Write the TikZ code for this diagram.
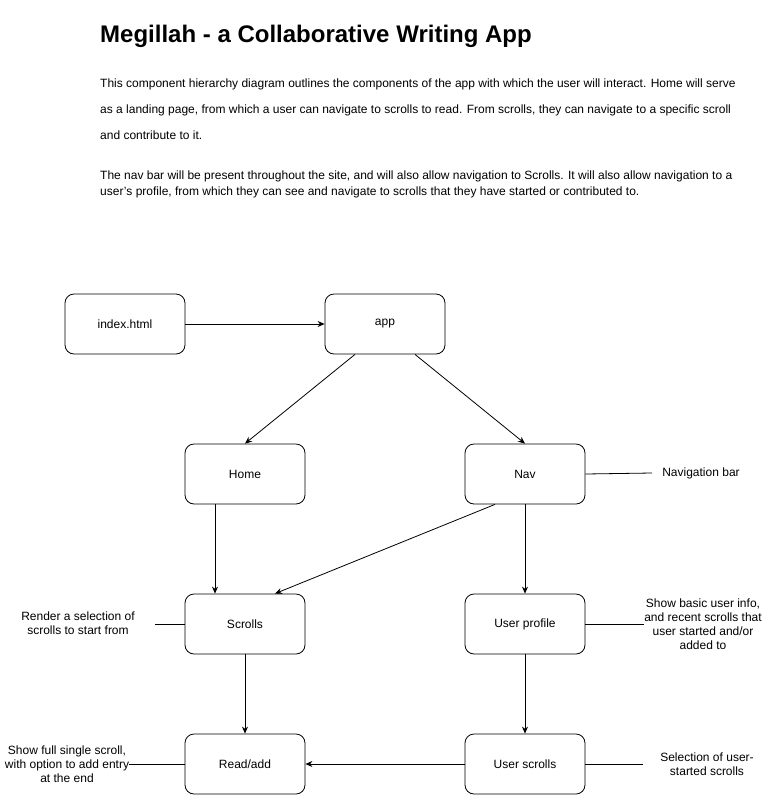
\documentclass[tikz,border=0pt]{standalone}
\usepackage{fontspec}
\setmainfont{Liberation Sans}
\usetikzlibrary{arrows.meta}
\begin{document}
\begin{tikzpicture}[x=1pt,y=-1pt,
  box/.style={draw,line width=0.8pt,rounded corners=9pt,minimum width=120pt,minimum height=60pt,inner sep=0pt,font=\fontsize{12}{14}\selectfont},
  conn/.style={line width=0.8pt,-{Stealth[length=7pt,width=6pt]}},
  link/.style={line width=0.8pt},
  note/.style={align=center,font=\fontsize{12}{14}\selectfont,inner sep=0pt},
  para/.style={anchor=base west,inner sep=0pt,font=\fontsize{12}{14}\selectfont}]
\useasboundingbox[fill=white] (0,0) rectangle (769,804);

\node[anchor=base west,inner sep=0pt,font=\bfseries\fontsize{24}{28}\selectfont] (title) at (100,42) {Megillah - a Collaborative Writing App};
\node[para] (p1) at (100,87) {This component hierarchy diagram outlines the components of the app with which the user will interact. Home will serve};
\node[para] (p2) at (100,113) {as a landing page, from which a user can navigate to scrolls to read. From scrolls, they can navigate to a specific scroll};
\node[para] (p3) at (100,139) {and contribute to it.};
\node[para] (p4) at (100,179) {The nav bar will be present throughout the site, and will also allow navigation to Scrolls. It will also allow navigation to a};
\node[para] (p5) at (100,195) {user{\char"0027}s profile, from which they can see and navigate to scrolls that they have started or contributed to.};

\node[box] (index) at (125,324) {index.html};
\node[box] (app) at (385,324) {app};
\node[box] (home) at (245,474) {Home};
\node[box] (nav) at (525,474) {Nav};
\node[box] (scrolls) at (245,624) {Scrolls};
\node[box] (profile) at (525,624) {User profile};
\node[box] (read) at (245,764) {Read/add};
\node[box] (uscrolls) at (525,764) {User scrolls};

\draw[conn] (index.east) -- (app.west);
\draw[conn] ([xshift=-30pt]app.south) -- (home.north);
\draw[conn] ([xshift=30pt]app.south) -- (nav.north);
\draw[conn] ([xshift=-30pt]home.south) -- ([xshift=-30pt]scrolls.north);
\draw[conn] ([xshift=-30pt]nav.south) -- ([xshift=30pt]scrolls.north);
\draw[conn] (nav.south) -- (profile.north);
\draw[conn] (scrolls.south) -- (read.north);
\draw[conn] (profile.south) -- (uscrolls.north);
\draw[conn] (uscrolls.west) -- (read.east);

\node[note] (navnote) at (701,473) {Navigation bar};
\coordinate (navend) at (652,473);
\draw[link] (nav.east) -- (navend);

\node[note] (profnote) at (703,624) {Show basic user info,\\and recent scrolls that\\user started and/or\\added to};
\draw[link] (profile.east) -- (profnote.west);

\node[note] (scrollnote) at (78,623) {Render a selection of\\scrolls to start from};
\coordinate (scrollend) at (155,624);
\draw[link] (scrolls.west) -- (scrollend);

\node[note] (readnote) at (67,764) {Show full single scroll,\\with option to add entry\\at the end};
\draw[link] (read.west) -- (readnote.east);

\node[note] (usnote) at (707,764) {Selection of user-\\started scrolls};
\coordinate (usend) at (643,764);
\draw[link] (uscrolls.east) -- (usend);
\end{tikzpicture}
\end{document}
